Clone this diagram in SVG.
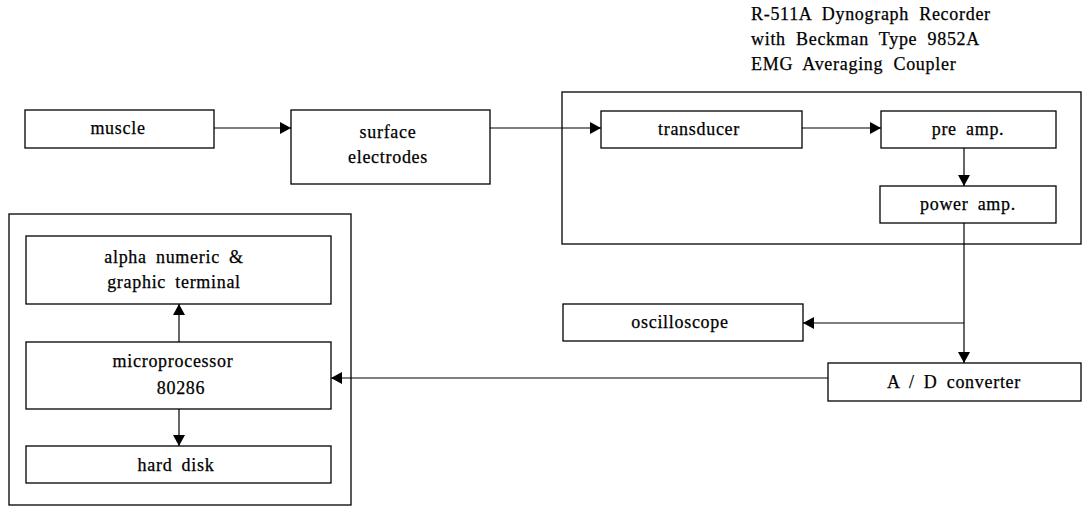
<svg xmlns="http://www.w3.org/2000/svg" width="1085" height="507" viewBox="0 0 1085 507">
<style>
.box{fill:none;stroke:#000;stroke-width:1.3}
.frame{fill:none;stroke:#000;stroke-width:1.3}
.t{font-family:"Liberation Serif","Times New Roman",serif;font-size:18px;letter-spacing:0.7px;word-spacing:4px;fill:#000;stroke:#000;stroke-width:0.25;text-anchor:middle}
.h{font-family:"Liberation Serif","Times New Roman",serif;font-size:18px;letter-spacing:0.7px;word-spacing:5px;fill:#000;stroke:#000;stroke-width:0.25}
.c{fill:none;stroke:#000;stroke-width:1.2}
</style>
<defs>
<marker id="ah" markerUnits="userSpaceOnUse" markerWidth="11" markerHeight="12" viewBox="0 0 11 12" refX="11" refY="6" orient="auto">
<path d="M0,0 L11,6 L0,12 z" fill="#000"/>
</marker>
</defs>
<rect width="1085" height="507" fill="#fff"/>
<g id="header">
<text class="h" x="751" y="20">R-511A Dynograph Recorder</text>
<text class="h" x="751" y="45">with Beckman Type 9852A</text>
<text class="h" x="751" y="70">EMG Averaging Coupler</text>
</g>
<g id="recorder-frame"><rect class="frame" x="562" y="92" width="519" height="152"/></g>
<g id="computer-frame"><rect class="frame" x="9" y="214" width="342" height="291"/></g>
<g id="muscle"><rect class="box" x="25" y="110" width="189" height="38"/><text class="t" x="118" y="134">muscle</text></g>
<g id="surface-electrodes"><rect class="box" x="291" y="110" width="199" height="74"/><text class="t" x="388" y="138">surface</text><text class="t" x="388" y="163">electrodes</text></g>
<g id="transducer"><rect class="box" x="601" y="111" width="201" height="37"/><text class="t" x="699" y="135">transducer</text></g>
<g id="pre-amp"><rect class="box" x="881" y="111" width="175" height="37"/><text class="t" x="968" y="135">pre amp.</text></g>
<g id="power-amp"><rect class="box" x="880" y="186" width="176" height="37"/><text class="t" x="968" y="210">power amp.</text></g>
<g id="oscilloscope"><rect class="box" x="563" y="304" width="240" height="37"/><text class="t" x="680" y="328">oscilloscope</text></g>
<g id="ad-converter"><rect class="box" x="828" y="363" width="253" height="38"/><text class="t" x="954" y="388">A / D converter</text></g>
<g id="terminal"><rect class="box" x="26" y="236" width="305" height="68"/><text class="t" x="174" y="263">alpha numeric &amp;</text><text class="t" x="174" y="288">graphic terminal</text></g>
<g id="microprocessor"><rect class="box" x="26" y="342" width="305" height="67"/><text class="t" x="173" y="367">microprocessor</text><text class="t" x="181" y="394">80286</text></g>
<g id="hard-disk"><rect class="box" x="26" y="446" width="305" height="37"/><text class="t" x="176" y="471">hard disk</text></g>
<g id="connectors">
<line class="c" x1="214" y1="128" x2="291" y2="128" marker-end="url(#ah)"/>
<line class="c" x1="490" y1="128" x2="601" y2="128" marker-end="url(#ah)"/>
<line class="c" x1="802" y1="128" x2="881" y2="128" marker-end="url(#ah)"/>
<line class="c" x1="964" y1="148" x2="964" y2="186" marker-end="url(#ah)"/>
<line class="c" x1="964" y1="223" x2="964" y2="363" marker-end="url(#ah)"/>
<line class="c" x1="964" y1="323" x2="803" y2="323" marker-end="url(#ah)"/>
<line class="c" x1="828" y1="378" x2="331" y2="378" marker-end="url(#ah)"/>
<line class="c" x1="179" y1="342" x2="179" y2="304" marker-end="url(#ah)"/>
<line class="c" x1="179" y1="409" x2="179" y2="446" marker-end="url(#ah)"/>
</g>
</svg>
